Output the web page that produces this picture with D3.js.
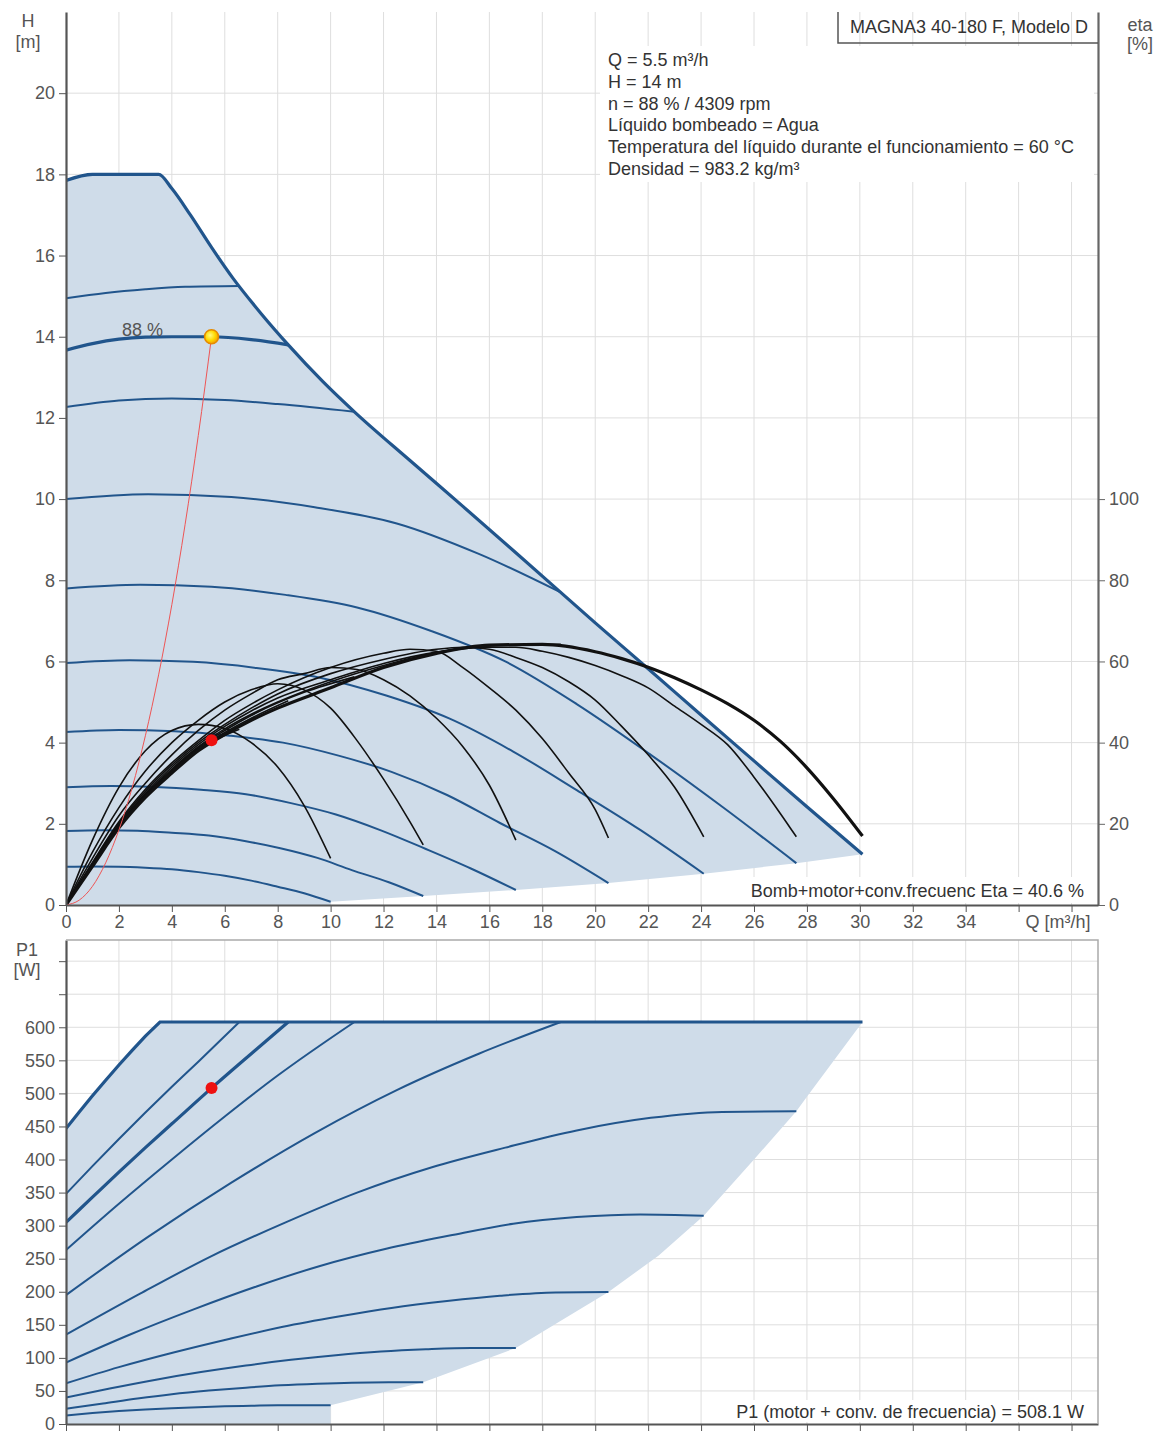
<!DOCTYPE html>
<html lang="es">
<head>
	<meta charset="UTF-8">
	<script src="https://d3js.org/d3.v7.min.js"></script>
	<title>MAGNA3 40-180 F, Modelo D</title>
	<style type="text/css">
		body { margin: 0; background: #fff; }
		svg { display: block; font-family: "Liberation Sans", Arial, sans-serif; }
		.grid line { stroke: #dedede; stroke-width: 1; }
		.axis text { font-size: 18px; fill: #555; font-family: "Liberation Sans", Arial, sans-serif; }
		.lbl { font-size: 18px; fill: #555; }
		.info { font-size: 18px; fill: #333; }
		.speed { fill: none; stroke: #21558c; stroke-width: 2; }
		.speed.thick { stroke-width: 3.2; }
		.eta { fill: none; stroke: #111; stroke-width: 1.6; }
		.eta.thick { stroke-width: 3.2; }
	</style>
</head>
<body onload="main()">
<svg width="1162" height="1433"></svg>

<script>
// axis ticks
var qTicks = [0, 2, 4, 6, 8, 10, 12, 14, 16, 18, 20, 22, 24, 26, 28, 30, 32, 34, 36, 38];
var hTicks = [0, 2, 4, 6, 8, 10, 12, 14, 16, 18, 20];
var etaTicks = [0, 20, 40, 60, 80, 100];
var pTicks = [0, 50, 100, 150, 200, 250, 300, 350, 400, 450, 500, 550, 600, 650, 700];

// H curves (Q in m3/h, H in m)
var maxQ = [0, 1, 3.5, 4, 4.7, 5.5, 6.3, 7.4, 8.4, 9.7, 10.9, 13, 15, 17, 20, 22, 24, 26, 28, 30.1];
var maxH = [17.85, 18.0, 18.0, 17.65, 17.0, 16.2, 15.45, 14.55, 13.8, 12.9, 12.15, 10.95, 9.82, 8.68, 6.95, 5.82, 4.68, 3.55, 2.42, 1.25];
var lowQ = [30.1, 27.6, 24.1, 20.5, 17, 13.5, 10, 10];
var lowH = [1.25, 1.03, 0.77, 0.54, 0.37, 0.22, 0.08, 0];

var s149Q = [0, 1.5, 3, 4.5, 6.55];
var s149H = [14.95, 15.08, 15.17, 15.23, 15.25];
var s137Q = [0, 1, 2, 3, 4, 5.5, 7, 8.4];
var s137H = [13.67, 13.83, 13.94, 13.99, 14.0, 14.0, 13.93, 13.8];
var s123Q = [0, 2, 4, 6, 8, 10.9];
var s123H = [12.27, 12.43, 12.48, 12.44, 12.34, 12.15];
var s100Q = [0, 3.1, 6.25, 9.4, 12.5, 15.6, 18.7];
var s100H = [10.0, 10.12, 10.05, 9.8, 9.4, 8.65, 7.7];
var s78Q = [0, 2.8, 5.5, 8.3, 11, 13.8, 16.6, 19.3, 22.1, 24.8, 27.6];
var s78H = [7.8, 7.89, 7.84, 7.64, 7.33, 6.75, 6.0, 4.95, 3.7, 2.42, 1.03];
var s60Q = [0, 2.4, 4.8, 7.2, 9.6, 12.1, 14.5, 16.9, 19.3, 21.7, 24.1];
var s60H = [5.96, 6.03, 5.99, 5.84, 5.6, 5.16, 4.59, 3.78, 2.83, 1.85, 0.77];
var s43Q = [0, 2, 4.1, 6.2, 8.2, 10.3, 12.3, 14.4, 16.4, 18.5, 20.5];
var s43H = [4.26, 4.31, 4.28, 4.17, 4.0, 3.68, 3.28, 2.71, 2.02, 1.32, 0.54];
var s29Q = [0, 1.7, 3.4, 5.1, 6.8, 8.5, 10.2, 11.9, 13.6, 15.3, 17];
var s29H = [2.9, 2.93, 2.91, 2.84, 2.73, 2.51, 2.23, 1.84, 1.38, 0.9, 0.37];
var s18Q = [0, 1.4, 2.7, 4, 5.4, 6.8, 8.1, 9.5, 10.8, 12.2, 13.5];
var s18H = [1.82, 1.84, 1.83, 1.78, 1.71, 1.57, 1.40, 1.16, 0.86, 0.56, 0.22];
var s09Q = [0, 1, 2, 3, 4, 5, 6, 7, 8, 9, 10];
var s09H = [0.94, 0.95, 0.945, 0.92, 0.88, 0.81, 0.72, 0.6, 0.45, 0.29, 0.08];

// system curve through duty point
var sysQ = [0, 0.5, 1, 1.5, 2, 2.5, 3, 3.5, 4, 4.5, 5, 5.5];
var sysH = [0, 0.12, 0.46, 1.04, 1.85, 2.89, 4.17, 5.67, 7.4, 9.37, 11.57, 14];

// eta curves (%)
var e1Q = [0, 1, 2, 3, 4, 5, 6, 7, 8, 9, 10];
var e1E = [0, 16, 29, 38, 43, 44.5, 43.5, 40, 34, 24.5, 11.5];
var e2Q = [0, 1, 2, 3, 4, 5, 6, 7, 8, 9, 10, 11, 12, 13, 13.5];
var e2E = [0, 13, 24, 33, 40, 45.5, 50, 53, 54.5, 53, 48.5, 40.5, 31, 20.5, 14.8];
var e3Q = [0, 1, 2, 3, 4, 5, 6, 7, 8, 9, 10, 11, 12, 13, 14, 15, 16, 17];
var e3E = [0, 11.5, 22, 30, 37, 43, 48, 52, 55.5, 57, 58.5, 58, 55.5, 51.5, 46, 39, 29.5, 16];
var e4Q = [0, 1, 2, 3, 4, 5, 6, 7, 8, 10, 12, 13, 14, 15, 16, 17, 18, 19, 20, 20.5];
var e4E = [0, 10.5, 20.5, 28.5, 35, 40.5, 45.5, 49.5, 53, 58.5, 62, 63, 62.5, 58.5, 53.5, 48, 41, 32.5, 23.5, 16.5];
var e5Q = [0, 1, 2, 3, 4, 5, 6, 7, 8, 10, 12, 14, 15, 16, 17, 18, 19, 20, 21, 22, 23, 24.1];
var e5E = [0, 10.2, 20.2, 28, 34.5, 40, 44.5, 48.5, 52, 57, 60.5, 63, 63.5, 63, 61, 58.5, 55, 50.5, 44, 37, 29, 16.8];
var e6Q = [0, 1, 2, 3, 4, 5, 6, 7, 8, 10, 12, 14, 16, 17, 18, 19, 20, 21, 22, 23, 24, 25, 26, 27, 27.6];
var e6E = [0, 10, 19.8, 27.5, 34, 39.5, 44, 47.8, 51, 55.5, 59.5, 62.3, 63.5, 63.5, 62.5, 61, 59, 56.5, 53.5, 49, 44.5, 39.5, 31.5, 22.5, 16.8];
var e7Q = [0, 1, 2, 3, 4, 5, 6, 7, 8, 10, 12, 14, 16, 18.7];
var e7E = [0, 9.9, 19.6, 27.2, 33.5, 39, 43.4, 47, 50, 55, 59, 62.2, 63.8, 64.2];
var e8Q = [0, 1, 2, 3, 4, 5, 6, 7, 8, 9, 10.9];
var e8E = [0, 9.8, 19.4, 27, 33.2, 38.8, 43, 46.7, 49.8, 52.4, 56.2];
var e9Q = [0, 1, 2, 3, 4, 5, 5.5, 6, 7, 8.4];
var e9E = [0, 9.7, 19.3, 27, 33, 38.6, 40.6, 42.5, 46, 50.3];
var e10Q = [0, 1, 2, 3, 4, 5, 6.55];
var e10E = [0, 9.6, 19.2, 26.8, 32.8, 38.3, 43.3];
var eMaxQ = [0, 1, 2, 3, 4, 5, 6, 7, 8, 10, 12, 14, 16, 18, 20, 21, 22, 23, 24, 25, 26, 27, 28, 29, 30.1];
var eMaxE = [0, 9.5, 19, 26.5, 32.5, 38, 42, 45.5, 48.5, 53.5, 58.5, 62, 64, 64.2, 62.4, 60.7, 58.6, 56, 53, 49.6, 45.5, 40.3, 33.8, 26.2, 17];

// P1 curves (W)
var p1MaxQ = [0, 0.5, 1, 1.5, 2, 2.5, 3, 3.55, 30.1];
var p1MaxP = [447, 472, 496.5, 520, 543, 565, 586.5, 608, 608];
var pLowQ = [30.1, 28, 27.6, 26, 24.1, 22.4, 20.5, 18.7, 17, 13.5, 10, 10];
var pLowP = [608, 495, 473, 400, 315, 255, 199.5, 156, 115, 63, 28.5, 0];
var p149Q = [0, 1, 2, 3, 4, 5, 6.55];
var p149P = [348, 390, 431, 471, 510, 548, 608];
var p137P = [305, 343, 381, 418, 454, 508, 560, 608];
var p123P = [263, 333, 400, 465, 527, 608];
var p100P = [195, 283, 365, 440, 505, 560, 608];
var p78P = [135, 197, 254, 305, 350, 388, 418, 444, 463, 472, 473];
var p60P = [93, 135, 173, 208, 239, 265, 285, 303, 313, 317, 315];
var p43P = [61.5, 86, 108.5, 129, 147, 162.5, 175.5, 186, 194, 199, 199.5];
var p29P = [40, 54, 67, 78.5, 88.5, 97, 104, 109.5, 113, 115, 115];
var p18P = [23, 31, 38.5, 45, 50.5, 55, 58.5, 61, 62.5, 63, 63];
var p09P = [13, 16.5, 19.5, 22, 24, 25.5, 26.8, 27.6, 28.2, 28.5, 28.5];

// duty point
var dutyQ = 5.5, dutyH = 14, dutyEta = 40.6, dutyP = 508.1;

var infoLines = [
	"Q = 5.5 m\u00b3/h",
	"H = 14 m",
	"n = 88 % / 4309 rpm",
	"L\u00edquido bombeado = Agua",
	"Temperatura del l\u00edquido durante el funcionamiento = 60 \u00b0C",
	"Densidad = 983.2 kg/m\u00b3"
];

function pts(qs, vs) {
	return qs.map(function(q, i) { return [q, vs[i]]; });
}

function main() {
	var svg = d3.select("svg");
	var left = 66, right = 1098, top1 = 12, bottom1 = 905, top2 = 940, bottom2 = 1424;

	var x = d3.scaleLinear().domain([0, 39]).range([left, right]);
	var yH = d3.scaleLinear().domain([0, 22]).range([bottom1, top1]);
	var yEta = d3.scaleLinear().domain([0, 220]).range([bottom1, top1]);
	var yP = d3.scaleLinear().domain([0, 732]).range([bottom2, top2]);

	var defs = svg.append("defs");
	defs.append("clipPath").attr("id", "clipTop").append("rect")
		.attr("x", left).attr("y", top1).attr("width", right - left).attr("height", bottom1 - top1);
	defs.append("clipPath").attr("id", "clipBot").append("rect")
		.attr("x", left).attr("y", top2).attr("width", right - left).attr("height", bottom2 - top2);
	var grad = defs.append("radialGradient").attr("id", "dutyGrad")
		.attr("cx", "40%").attr("cy", "40%").attr("r", "60%");
	grad.append("stop").attr("offset", "0%").attr("stop-color", "#fffb80");
	grad.append("stop").attr("offset", "60%").attr("stop-color", "#ffd800");
	grad.append("stop").attr("offset", "100%").attr("stop-color", "#f5a300");

	// grids
	var gTop = svg.append("g").attr("class", "grid");
	gTop.selectAll(".vx").data(qTicks.slice(1)).enter().append("line")
		.attr("x1", function(d) { return x(d); }).attr("x2", function(d) { return x(d); })
		.attr("y1", top1).attr("y2", bottom1);
	gTop.selectAll(".hy").data(hTicks.slice(1)).enter().append("line")
		.attr("x1", left).attr("x2", right)
		.attr("y1", function(d) { return yH(d); }).attr("y2", function(d) { return yH(d); });

	var gBot = svg.append("g").attr("class", "grid");
	gBot.selectAll(".vx").data(qTicks.slice(1)).enter().append("line")
		.attr("x1", function(d) { return x(d); }).attr("x2", function(d) { return x(d); })
		.attr("y1", top2).attr("y2", bottom2);
	gBot.selectAll(".hy").data(pTicks.slice(1)).enter().append("line")
		.attr("x1", left).attr("x2", right)
		.attr("y1", function(d) { return yP(d); }).attr("y2", function(d) { return yP(d); });

	// white background under the info block
	svg.append("rect").attr("x", 600).attr("y", 46).attr("width", 494).attr("height", 136).attr("fill", "#fff");

	var lineH = d3.line().x(function(d) { return x(d[0]); }).y(function(d) { return yH(d[1]); }).curve(d3.curveMonotoneX);
	var lineEta = d3.line().x(function(d) { return x(d[0]); }).y(function(d) { return yEta(d[1]); }).curve(d3.curveMonotoneX);
	var lineP = d3.line().x(function(d) { return x(d[0]); }).y(function(d) { return yP(d[1]); }).curve(d3.curveMonotoneX);
	var polyH = d3.line().x(function(d) { return x(d[0]); }).y(function(d) { return yH(d[1]); });
	var polyP = d3.line().x(function(d) { return x(d[0]); }).y(function(d) { return yP(d[1]); });

	// ---- top chart ----
	var top = svg.append("g").attr("clip-path", "url(#clipTop)");
	var area1 = [[0, 0]].concat(pts(maxQ, maxH), pts(lowQ, lowH));
	top.append("path").attr("d", polyH(area1) + "Z").attr("fill", "#cfdce9");

	var speedCurves = [
		[s09Q, s09H], [s18Q, s18H], [s29Q, s29H], [s43Q, s43H], [s60Q, s60H],
		[s78Q, s78H], [s100Q, s100H], [s123Q, s123H], [s149Q, s149H]
	];
	top.selectAll(".speedH").data(speedCurves).enter().append("path")
		.attr("class", "speed")
		.attr("d", function(c) { return lineH(pts(c[0], c[1])); });
	top.append("path").attr("class", "speed thick").attr("d", lineH(pts(s137Q, s137H)));
	top.append("path").attr("class", "speed thick").attr("d", lineH(pts(maxQ, maxH)));

	var etaCurves = [
		[e1Q, e1E], [e2Q, e2E], [e3Q, e3E], [e4Q, e4E], [e5Q, e5E], [e6Q, e6E],
		[e7Q, e7E], [e8Q, e8E], [e9Q, e9E], [e10Q, e10E]
	];
	top.selectAll(".etaC").data(etaCurves).enter().append("path")
		.attr("class", "eta")
		.attr("d", function(c) { return lineEta(pts(c[0], c[1])); });
	top.append("path").attr("class", "eta thick").attr("d", lineEta(pts(eMaxQ, eMaxE)));

	top.append("path").attr("d", lineH(pts(sysQ, sysH)))
		.attr("fill", "none").attr("stroke", "#ee5555").attr("stroke-width", 1);

	top.append("circle").attr("cx", x(dutyQ)).attr("cy", yEta(dutyEta)).attr("r", 6).attr("fill", "#ee1111");
	top.append("circle").attr("cx", x(dutyQ)).attr("cy", yH(dutyH)).attr("r", 7)
		.attr("fill", "url(#dutyGrad)").attr("stroke", "#e58a00").attr("stroke-width", 1.5);

	svg.append("text").attr("class", "lbl").attr("x", 122).attr("y", 336).text("88 %");

	// ---- bottom chart ----
	var bot = svg.append("g").attr("clip-path", "url(#clipBot)");
	var area2 = [[0, 0]].concat(pts(p1MaxQ, p1MaxP), pts(pLowQ, pLowP));
	bot.append("path").attr("d", polyP(area2) + "Z").attr("fill", "#cfdce9");

	var powerCurves = [
		[s09Q, p09P], [s18Q, p18P], [s29Q, p29P], [s43Q, p43P], [s60Q, p60P],
		[s78Q, p78P], [s100Q, p100P], [s123Q, p123P], [p149Q, p149P]
	];
	bot.selectAll(".speedP").data(powerCurves).enter().append("path")
		.attr("class", "speed")
		.attr("d", function(c) { return lineP(pts(c[0], c[1])); });
	bot.append("path").attr("class", "speed thick").attr("d", lineP(pts(s137Q, p137P)));
	bot.append("path").attr("class", "speed thick").attr("d", polyP(pts(p1MaxQ, p1MaxP)));
	bot.append("circle").attr("cx", x(dutyQ)).attr("cy", yP(dutyP)).attr("r", 6).attr("fill", "#ee1111");

	// ---- axes ----
	var axL = svg.append("g").attr("class", "axis").attr("color", "#555")
		.attr("transform", "translate(" + left + ",0)")
		.call(d3.axisLeft(yH).tickValues(hTicks).tickSize(7).tickPadding(4).tickSizeOuter(0));
	var axR = svg.append("g").attr("class", "axis").attr("color", "#666")
		.attr("transform", "translate(" + right + ",0)")
		.call(d3.axisRight(yEta).tickValues(etaTicks).tickSize(7).tickPadding(4).tickSizeOuter(0));
	var axB = svg.append("g").attr("class", "axis").attr("color", "#555")
		.attr("transform", "translate(0," + bottom1 + ")")
		.call(d3.axisBottom(x).tickValues(qTicks).tickSize(7).tickPadding(3).tickSizeOuter(0)
			.tickFormat(function(d) { return d <= 34 ? d : ""; }));
	var axP = svg.append("g").attr("class", "axis").attr("color", "#555")
		.attr("transform", "translate(" + left + ",0)")
		.call(d3.axisLeft(yP).tickValues(pTicks).tickSize(7).tickPadding(4).tickSizeOuter(0)
			.tickFormat(function(d) { return d <= 600 ? d : ""; }));
	var axPB = svg.append("g").attr("class", "axis").attr("color", "#555")
		.attr("transform", "translate(0," + bottom2 + ")")
		.call(d3.axisBottom(x).tickValues(qTicks).tickSize(7).tickSizeOuter(0).tickFormat(""));
	[axL, axB, axP, axPB, axR].forEach(function(a) { a.select(".domain").attr("stroke-width", 2.2); });

	// frame of the lower chart
	svg.append("path").attr("d", "M" + left + "," + top2 + "H" + right + "V" + bottom2)
		.attr("fill", "none").attr("stroke", "#aaa").attr("stroke-width", 1.5);

	// axis titles
	svg.append("text").attr("class", "lbl").attr("x", 28).attr("y", 27).attr("text-anchor", "middle").text("H");
	svg.append("text").attr("class", "lbl").attr("x", 28).attr("y", 48).attr("text-anchor", "middle").text("[m]");
	svg.append("text").attr("class", "lbl").attr("x", 1140).attr("y", 31).attr("text-anchor", "middle").text("eta");
	svg.append("text").attr("class", "lbl").attr("x", 1140).attr("y", 50).attr("text-anchor", "middle").text("[%]");
	svg.append("text").attr("class", "lbl").attr("x", 27).attr("y", 956).attr("text-anchor", "middle").text("P1");
	svg.append("text").attr("class", "lbl").attr("x", 27).attr("y", 976).attr("text-anchor", "middle").text("[W]");
	svg.append("text").attr("class", "lbl").attr("x", 1058).attr("y", 928).attr("text-anchor", "middle").text("Q [m\u00b3/h]");

	// title box
	svg.append("path").attr("d", "M838,12V43H" + right).attr("fill", "none").attr("stroke", "#555").attr("stroke-width", 1.5);
	svg.append("text").attr("class", "info").attr("x", 1088).attr("y", 33).attr("text-anchor", "end")
		.text("MAGNA3 40-180 F, Modelo D");

	svg.selectAll(".infoLine").data(infoLines).enter().append("text")
		.attr("class", "info").attr("x", 608)
		.attr("y", function(d, i) { return 66 + i * 21.8; })
		.text(function(d) { return d; });

	svg.append("rect").attr("x", 740).attr("y", 877).attr("width", 356).attr("height", 26).attr("fill", "#fff");
	svg.append("text").attr("class", "info").attr("x", 1084).attr("y", 897).attr("text-anchor", "end")
		.text("Bomb+motor+conv.frecuenc Eta = 40.6 %");

	svg.append("rect").attr("x", 720).attr("y", 1400).attr("width", 376).attr("height", 22).attr("fill", "#fff");
	svg.append("text").attr("class", "info").attr("x", 1084).attr("y", 1418).attr("text-anchor", "end")
		.text("P1 (motor + conv. de frecuencia) = 508.1 W");
}
</script>
</body>
</html>
